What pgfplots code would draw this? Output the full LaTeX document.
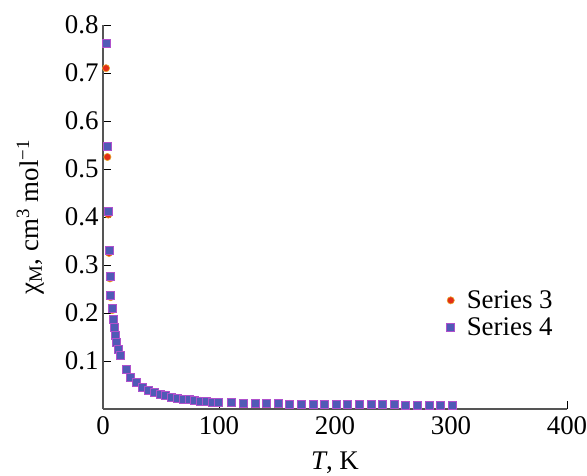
\documentclass[border=0pt]{standalone}
\usepackage{pgfplots}
\pgfplotsset{compat=1.18}
\usepackage{fontspec}
\setmainfont{Liberation Serif}
\definecolor{sthreefill}{RGB}{226,46,24}
\definecolor{sthreeedge}{RGB}{232,168,40}
\definecolor{sfourfill}{RGB}{80,90,182}
\definecolor{sfouredge}{RGB}{176,80,204}
\definecolor{axgray}{RGB}{85,85,85}
\begin{document}
\begin{tikzpicture}
\path[use as bounding box] (-103bp,-67bp) rectangle (484bp,409bp);
\begin{axis}[
  scale only axis,
  width=464bp, height=384bp,
  xmin=0, xmax=400, ymin=0, ymax=0.8,
  axis lines=left,
  axis line style={-, axgray, line width=1.2pt},
  xtick={0,100,200,300,400},
  ytick={0.1,0.2,0.3,0.4,0.5,0.6,0.7,0.8},
  tick align=inside,
  major tick length=8bp,
  tick style={black, line width=0.8pt},
  /pgf/number format/assume math mode=true,
  /pgf/number format/fixed,
  /pgf/number format/precision=1,
  ticklabel style={font=\fontsize{27}{32}\selectfont},
  yticklabel style={xshift=-1bp},
  xticklabel style={yshift=-4bp},
  xlabel={\textit{T}, K},
  ylabel={χ\textsubscript{M}, cm\textsuperscript{3} mol\textsuperscript{−1}},
  label style={font=\fontsize{27}{32}\selectfont},
  xlabel style={at={(axis description cs:0.5,0)}, anchor=center, yshift=-54bp},
  ylabel style={at={(axis description cs:-0.157,0.5)}, anchor=center, rotate=0},
  legend style={draw=none, fill=none, at={(rel axis cs:0.734,0.319)}, anchor=north west,
    font=\fontsize{27}{32}\selectfont, row sep=4bp,
    /tikz/every odd column/.append style={column sep=10bp}},
  legend cell align=left,
  clip=false,
]
\addplot[only marks, mark=*, mark size=3.6bp, mark options={fill=sthreefill, draw=sthreeedge, line width=0.6pt}] coordinates {
(2.6,0.710)(3.8,0.525)(4.6,0.405)(5.2,0.325)(6.0,0.272)(6.6,0.233)(8.0,0.206)(8.9,0.184)(9.7,0.168)(10.6,0.152)(11.8,0.137)(13.2,0.123)(14.9,0.111)
(20.4,0.081)(23.9,0.065)(29,0.054)(34,0.045)(39,0.039)(44,0.034)(49,0.030)(54,0.027)(59,0.025)(64,0.023)(69,0.021)(74,0.019)(79,0.018)(84,0.017)(89,0.016)(94,0.015)(99,0.014)
(111,0.013)(121,0.0125)(131,0.012)(141,0.0116)(151,0.0112)(161,0.0108)(171,0.0105)(181,0.0102)(191,0.0099)(201,0.0097)(211,0.0095)(221,0.0093)(231,0.0091)(241,0.0089)(251,0.0088)(261,0.0086)(271,0.0085)(281,0.0083)(291,0.0082)(301,0.0081)
};
\addlegendentry{Series 3}
\addplot[only marks, mark=square*, mark size=4bp, mark options={fill=sfourfill, draw=sfouredge, line width=0.6pt}] coordinates {
(3.2,0.762)(3.4,0.547)(4.6,0.412)(5.2,0.331)(6.0,0.277)(6.6,0.237)(8.0,0.209)(8.9,0.186)(9.7,0.170)(10.6,0.154)(11.8,0.139)(13.2,0.125)(14.9,0.112)
(20.4,0.082)(23.9,0.066)(29,0.055)(34,0.046)(39,0.040)(44,0.035)(49,0.031)(54,0.028)(59,0.025)(64,0.023)(69,0.021)(74,0.020)(79,0.018)(84,0.017)(89,0.016)(94,0.015)(99,0.014)
(111,0.013)(121,0.0125)(131,0.012)(141,0.0116)(151,0.0112)(161,0.0108)(171,0.0105)(181,0.0102)(191,0.0099)(201,0.0097)(211,0.0095)(221,0.0093)(231,0.0091)(241,0.0089)(251,0.0088)(261,0.0086)(271,0.0085)(281,0.0083)(291,0.0082)(301,0.0081)
};
\addlegendentry{Series 4}
\end{axis}
\end{tikzpicture}
\end{document}
